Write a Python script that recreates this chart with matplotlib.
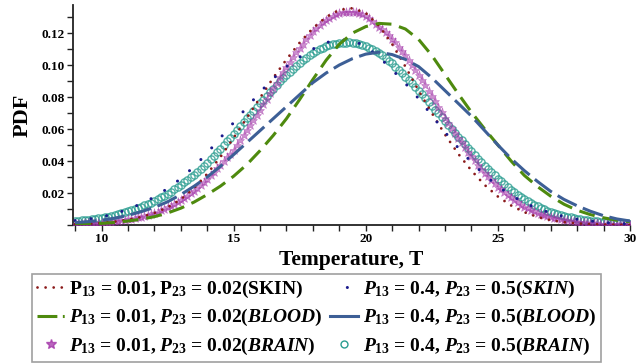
import numpy as np
import matplotlib
matplotlib.use("Agg")
import matplotlib.pyplot as plt
from matplotlib.ticker import FixedLocator, MultipleLocator
from matplotlib.lines import Line2D

plt.rcParams['font.family'] = ['Liberation Serif', 'DejaVu Serif']
plt.rcParams['font.weight'] = 'bold'
plt.rcParams['mathtext.fontset'] = 'custom'
plt.rcParams['mathtext.rm'] = 'Liberation Serif:bold'
plt.rcParams['mathtext.it'] = 'Liberation Serif:italic:bold'
plt.rcParams['mathtext.bf'] = 'Liberation Serif:bold'

# ---- data ----
T_half = np.arange(9.0, 30.01, 0.5)
T_fine = np.arange(9.0, 30.001, 0.125)

skin_low = [0.0005, 0.0008, 0.0013, 0.0021, 0.0033, 0.0050, 0.0075, 0.0110, 0.0160, 0.0230,
            0.0320, 0.0425, 0.0545, 0.0670, 0.0795, 0.0920, 0.1035, 0.1140, 0.1230, 0.1300,
            0.1345, 0.1355, 0.1325, 0.1245, 0.1130, 0.0990, 0.0840, 0.0700, 0.0565, 0.0445,
            0.0340, 0.0250, 0.0178, 0.0122, 0.0080, 0.0050, 0.0030, 0.0018, 0.0010, 0.0006,
            0.0003, 0.0002, 0.0001]

skin_high = [0.0028, 0.0037, 0.0050, 0.0070, 0.0098, 0.0133, 0.0175, 0.0228, 0.0290, 0.0365,
             0.0450, 0.0545, 0.0640, 0.0735, 0.0830, 0.0915, 0.0990, 0.1050, 0.1100, 0.1140,
             0.1158, 0.1155, 0.1115, 0.1050, 0.0970, 0.0885, 0.0790, 0.0685, 0.0580, 0.0482,
             0.0392, 0.0312, 0.0242, 0.0185, 0.0140, 0.0103, 0.0075, 0.0053, 0.0036, 0.0025,
             0.0016, 0.0010, 0.0007]

blood_low = [0.0005, 0.0007, 0.0010, 0.0016, 0.0025, 0.0036, 0.0052, 0.0075, 0.0105, 0.0143,
             0.0190, 0.0243, 0.0305, 0.0378, 0.0465, 0.0560, 0.0665, 0.0785, 0.0910, 0.1030,
             0.1130, 0.1200, 0.1240, 0.1260, 0.1255, 0.1225, 0.1160, 0.1060, 0.0940, 0.0820,
             0.0705, 0.0600, 0.0500, 0.0400, 0.0310, 0.0240, 0.0180, 0.0130, 0.0092, 0.0065,
             0.0045, 0.0030, 0.0020]

blood_high = [0.0015, 0.0021, 0.0030, 0.0043, 0.0060, 0.0083, 0.0110, 0.0145, 0.0190, 0.0242,
              0.0300, 0.0367, 0.0440, 0.0515, 0.0590, 0.0665, 0.0740, 0.0815, 0.0890, 0.0950,
              0.1000, 0.1040, 0.1068, 0.1080, 0.1065, 0.1035, 0.0990, 0.0920, 0.0840, 0.0760,
              0.0680, 0.0590, 0.0500, 0.0415, 0.0340, 0.0272, 0.0210, 0.0160, 0.0120, 0.0086,
              0.0058, 0.0038, 0.0025]

brain_low = [
    0.0008, 0.00085, 0.0009, 0.0010, 0.0011, 0.0012, 0.0013, 0.0014,
    0.0015, 0.0017, 0.0019, 0.00215, 0.0024, 0.00265, 0.0029, 0.0032,
    0.0035, 0.0039, 0.0044, 0.00485, 0.0053, 0.0058, 0.0063, 0.0069,
    0.0075, 0.0083, 0.0091, 0.0100, 0.0110, 0.0120, 0.0131, 0.0143,
    0.0155, 0.0169, 0.0183, 0.0198, 0.0214, 0.0232, 0.0250, 0.0270,
    0.0290, 0.0311, 0.0332, 0.0354, 0.0376, 0.0399, 0.0422, 0.0446,
    0.0470, 0.0500, 0.0530, 0.0561, 0.0592, 0.0623, 0.0655, 0.0687,
    0.0720, 0.0754, 0.0788, 0.0822, 0.0856, 0.0890, 0.0923, 0.0957,
    0.0990, 0.1020, 0.1050, 0.1079, 0.1107, 0.1134, 0.1160, 0.1186,
    0.1210, 0.1231, 0.1250, 0.1267, 0.1283, 0.1296, 0.1308, 0.1317,
    0.1325, 0.1330, 0.1333, 0.1334, 0.1334, 0.1330, 0.1325, 0.1316,
    0.1305, 0.1291, 0.1275, 0.1258, 0.1240, 0.1223, 0.1205, 0.1186,
    0.1165, 0.1141, 0.1115, 0.1088, 0.1060, 0.1030, 0.1000, 0.0970,
    0.0940, 0.0907, 0.0873, 0.0840, 0.0806, 0.0772, 0.0738, 0.0704,
    0.0670, 0.0638, 0.0607, 0.0576, 0.0546, 0.0516, 0.0487, 0.0458,
    0.0430, 0.0404, 0.0378, 0.0353, 0.0328, 0.0305, 0.0282, 0.0261,
    0.0240, 0.0222, 0.0205, 0.0188, 0.0172, 0.0157, 0.0142, 0.0128,
    0.0115, 0.0105, 0.0096, 0.0087, 0.0078, 0.0070, 0.0063, 0.0056,
    0.0050, 0.0045, 0.0041, 0.0037, 0.0033, 0.0029, 0.0026, 0.0023,
    0.0020, 0.0018, 0.0016, 0.00145, 0.0013, 0.00115, 0.0010, 0.0009,
    0.0008, 0.0007, 0.0006, 0.00055, 0.0005, 0.00045, 0.0004, 0.00035,
    0.0003]

brain_high = [
    0.0025, 0.0027, 0.0029, 0.00315, 0.0034, 0.00365, 0.0039, 0.0042,
    0.0045, 0.0049, 0.0053, 0.00575, 0.0062, 0.00675, 0.0073, 0.0079,
    0.0085, 0.0092, 0.0099, 0.01065, 0.0114, 0.01225, 0.0131, 0.0140,
    0.0150, 0.0161, 0.0172, 0.0184, 0.0196, 0.0209, 0.0222, 0.0236,
    0.0250, 0.0266, 0.0282, 0.0298, 0.0315, 0.0333, 0.0351, 0.0370,
    0.0390, 0.0411, 0.0433, 0.0455, 0.0477, 0.0500, 0.0523, 0.0546,
    0.0570, 0.0594, 0.0618, 0.0642, 0.0666, 0.0690, 0.0713, 0.0737,
    0.0760, 0.0784, 0.0807, 0.0830, 0.0853, 0.0876, 0.0898, 0.0919,
    0.0940, 0.0959, 0.0977, 0.0995, 0.1012, 0.1029, 0.1045, 0.1060,
    0.1075, 0.1088, 0.1099, 0.1109, 0.1117, 0.1124, 0.1129, 0.1133,
    0.1136, 0.1138, 0.1140, 0.1141, 0.1140, 0.1136, 0.1131, 0.1125,
    0.1117, 0.1108, 0.1098, 0.1087, 0.1075, 0.1061, 0.1045, 0.1028,
    0.1010, 0.0990, 0.0970, 0.0949, 0.0928, 0.0907, 0.0885, 0.0863,
    0.0840, 0.0817, 0.0793, 0.0769, 0.0745, 0.0721, 0.0697, 0.0674,
    0.0650, 0.0626, 0.0602, 0.0577, 0.0553, 0.0529, 0.0506, 0.0483,
    0.0460, 0.0437, 0.0415, 0.0393, 0.0371, 0.0350, 0.0330, 0.0310,
    0.0290, 0.0272, 0.0255, 0.0238, 0.0221, 0.0205, 0.0190, 0.0175,
    0.0160, 0.0149, 0.0138, 0.0127, 0.0117, 0.0107, 0.0098, 0.0089,
    0.0080, 0.0074, 0.0068, 0.0062, 0.0056, 0.0051, 0.0047, 0.0042,
    0.0038, 0.0035, 0.0032, 0.00295, 0.0027, 0.00245, 0.0022, 0.0020,
    0.0018, 0.00165, 0.0015, 0.0014, 0.0013, 0.0012, 0.0011, 0.0010,
    0.0009]

x_major = [10, 15, 20, 25, 30]
y_major = [0.02, 0.04, 0.06, 0.08, 0.10, 0.12]
y_labels = ['0.02', '0.04', '0.06', '0.08', '0.10', '0.12']

labels = [r'$\mathrm{P}_{13}$ = 0.01, $\mathrm{P}_{23}$ = 0.02(SKIN)',
          r'$P_{13}$ = 0.01, $P_{23}$ = 0.02($BLOOD$)',
          r'$P_{13}$ = 0.01, $P_{23}$ = 0.02($BRAIN$)',
          r'$P_{13}$ = 0.4, $P_{23}$ = 0.5($SKIN$)',
          r'$P_{13}$ = 0.4, $P_{23}$ = 0.5($BLOOD$)',
          r'$P_{13}$ = 0.4, $P_{23}$ = 0.5($BRAIN$)']

c_red = '#8b1a1a'
c_green = '#4e8a0e'
c_navy = '#1a1a8c'
c_blue = '#3d5f96'
c_mag = '#a233a8'
c_teal = '#2a9d90'

ls_red = (0, (0.01, 2.9))
ls_navy = (0, (0.01, 5.2))
ls_green = (0, (5.2, 2.6))
ls_blue = (0, (7.0, 2.2))

fig = plt.figure(figsize=(6.44, 3.63), dpi=100)
ax = fig.add_axes([73/644, 1-225/363, (630-73)/644, (225-5)/363])

ax.plot(T_fine, brain_high, linestyle='none', marker='o', markersize=5.2,
        markerfacecolor='none', markeredgecolor=c_teal, markeredgewidth=1.0, alpha=0.8, zorder=2)
ax.plot(T_fine, brain_low, linestyle='none', marker='*', markersize=6.5,
        color=c_mag, alpha=0.55, markeredgewidth=0.4, zorder=3)
ax.plot(T_half, skin_low, color=c_red, linewidth=2.0, linestyle=ls_red,
        dash_capstyle='round', zorder=4)
ax.plot(T_half, skin_high, color=c_navy, linewidth=2.2, linestyle=ls_navy,
        dash_capstyle='round', zorder=4)
ax.plot(T_half, blood_low, color=c_green, linewidth=2.2, linestyle=ls_green, zorder=4)
ax.plot(T_half, blood_high, color=c_blue, linewidth=2.2, linestyle=ls_blue, zorder=4)

ax.set_xlim(8.92, 30.0)
ax.set_ylim(0, 0.1375)
ax.spines['top'].set_visible(False)
ax.spines['right'].set_visible(False)
for s in ('left', 'bottom'):
    ax.spines[s].set_linewidth(1.3)
    ax.spines[s].set_color('#222222')

ax.xaxis.set_major_locator(FixedLocator(x_major))
ax.xaxis.set_minor_locator(MultipleLocator(1))
ax.yaxis.set_major_locator(FixedLocator(y_major))
ax.yaxis.set_minor_locator(MultipleLocator(0.01))
ax.set_yticklabels(y_labels)
ax.tick_params(which='both', direction='out', length=4, width=1, colors='#222222',
               labelsize=9.5, pad=2)
for lab in ax.get_xticklabels() + ax.get_yticklabels():
    lab.set_fontweight('bold')
    lab.set_color('black')

ax.set_xlabel('Temperature, T', fontsize=15.5, fontweight='bold', labelpad=3)
ax.set_ylabel('PDF', fontsize=16, fontweight='bold', labelpad=6)

handles = [
    Line2D([], [], color=c_red, linewidth=2.0, linestyle=ls_red, dash_capstyle='round'),
    Line2D([], [], color=c_green, linewidth=2.2, linestyle=(0, (6.5, 1.8, 0.6, 5))),
    Line2D([], [], linestyle='none', marker='*', markersize=7, color=c_mag, alpha=0.75),
    Line2D([], [], color=c_navy, linewidth=2.2, linestyle=(1.5, (0.01, 7.0)),
           dash_capstyle='round'),
    Line2D([], [], color=c_blue, linewidth=2.2, linestyle='-'),
    Line2D([], [], linestyle='none', marker='o', markersize=5, markerfacecolor='none',
           markeredgecolor=c_teal, markeredgewidth=1.0),
]
leg = fig.legend(handles, labels, ncol=2, loc='upper left',
                 bbox_to_anchor=(32/644, 1-274/363), frameon=True, fancybox=False,
                 edgecolor='#888888', fontsize=14, handlelength=1.45, handletextpad=0.22,
                 columnspacing=0.4, labelspacing=0.38, borderaxespad=0, borderpad=0.25)
leg.get_frame().set_linewidth(1.2)
for t in leg.get_texts():
    t.set_fontweight('bold')

fig.savefig('out.png', dpi=100)
